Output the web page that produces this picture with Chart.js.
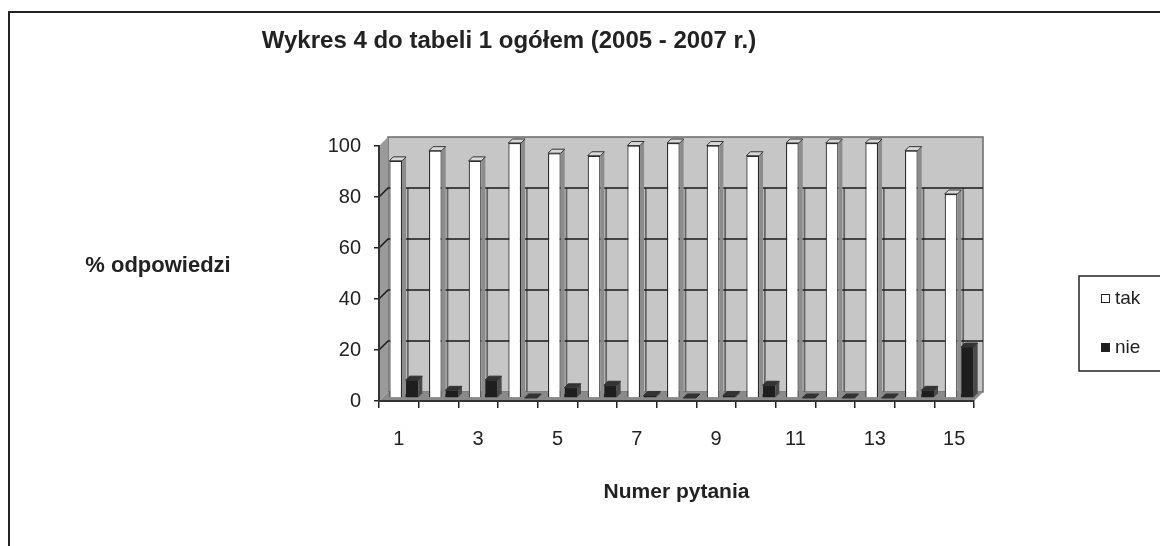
<!DOCTYPE html>
<html>
<head>
<meta charset="utf-8">
<title>Wykres 4 do tabeli 1</title>
<script src="https://cdn.jsdelivr.net/npm/chart.js@4.4.1/dist/chart.umd.min.js"></script>
<style>
  html, body { margin: 0; padding: 0; background: #fff; }
  #wrap { width: 1160px; height: 546px; }
</style>
</head>
<body>
<div id="wrap"><canvas id="chart" width="1160" height="546"></canvas></div>
<script>
// question numbers
const pytania = ["1", "2", "3", "4", "5", "6", "7", "8", "9", "10", "11", "12", "13", "14", "15"];
// % of answers
const tak = [93, 97, 93, 100, 96, 95, 99, 100, 99, 95, 100, 100, 100, 97, 80];
const nie = [7, 3, 7, 0, 4, 5, 1, 0, 1, 5, 0, 0, 0, 3, 20];
const yTicks = [0, 20, 40, 60, 80, 100];

const FONT = "'Liberation Sans', Arial, sans-serif";
const DX = 9, DY = -9;      // depth of the walls
const BD = 4;               // depth of a bar

// gray walls, floor and the lines on the back wall
const walls = {
  id: "walls",
  beforeDraw(chart) {
    const { ctx, chartArea: a, scales: { x, y } } = chart;
    ctx.save();
    ctx.fillStyle = "#fff";
    ctx.fillRect(0, 0, chart.width, chart.height);

    // outer frame (runs off the right and bottom edges)
    ctx.strokeStyle = "#222";
    ctx.lineWidth = 2;
    ctx.strokeRect(9, 12, chart.width + 20, chart.height + 20);

    // back wall
    ctx.fillStyle = "#c6c6c6";
    ctx.fillRect(a.left + DX, a.top + DY, a.right - a.left, a.bottom - a.top);
    ctx.strokeStyle = "#6a6a6a";
    ctx.lineWidth = 1.5;
    ctx.strokeRect(a.left + DX, a.top + DY, a.right - a.left, a.bottom - a.top);

    // left side wall
    ctx.fillStyle = "#9a9a9a";
    ctx.beginPath();
    ctx.moveTo(a.left, a.top);
    ctx.lineTo(a.left + DX, a.top + DY);
    ctx.lineTo(a.left + DX, a.bottom + DY);
    ctx.lineTo(a.left, a.bottom);
    ctx.closePath();
    ctx.fill();

    // floor
    ctx.fillStyle = "#8a8a8a";
    ctx.beginPath();
    ctx.moveTo(a.left, a.bottom);
    ctx.lineTo(a.left + DX, a.bottom + DY);
    ctx.lineTo(a.right + DX, a.bottom + DY);
    ctx.lineTo(a.right, a.bottom);
    ctx.closePath();
    ctx.fill();

    // vertical lines at the categories
    ctx.strokeStyle = "#666";
    ctx.lineWidth = 1.8;
    const top80 = y.getPixelForValue(80) + DY;
    pytania.forEach((p, i) => {
      const px = x.getPixelForValue(i) + DX;
      ctx.beginPath();
      ctx.moveTo(px, top80);
      ctx.lineTo(px, a.bottom + DY);
      ctx.stroke();
    });

    // horizontal grid on back and side wall
    ctx.strokeStyle = "#1a1a1a";
    ctx.lineWidth = 1.5;
    yTicks.filter(v => v > 0 && v < 100).forEach(v => {
      const py = y.getPixelForValue(v);
      ctx.beginPath();
      ctx.moveTo(a.left, py);
      ctx.lineTo(a.left + DX, py + DY);
      ctx.lineTo(a.right + DX, py + DY);
      ctx.stroke();
    });
    ctx.restore();
  },
  beforeDatasetsDraw(chart) {
    chart.ctx.save();
    chart.ctx.translate(5, -3);
  },
  afterDatasetsDraw(chart) {
    const ctx = chart.ctx;
    // top and side faces of the columns
    chart.data.datasets.forEach((ds, di) => {
      const meta = chart.getDatasetMeta(di);
      meta.data.forEach(bar => {
        const { x, y, base, width } = bar.getProps(["x", "y", "base", "width"], true);
        const l = x - width / 2, r = x + width / 2;
        ctx.fillStyle = ds.sideColor;
        ctx.beginPath();
        ctx.moveTo(r, y);
        ctx.lineTo(r + BD, y - BD);
        ctx.lineTo(r + BD, base - BD);
        ctx.lineTo(r, base);
        ctx.closePath();
        ctx.fill();
        ctx.fillStyle = ds.topColor;
        ctx.beginPath();
        ctx.moveTo(l, y);
        ctx.lineTo(l + BD, y - BD);
        ctx.lineTo(r + BD, y - BD);
        ctx.lineTo(r, y);
        ctx.closePath();
        ctx.fill();
        ctx.strokeStyle = "#333";
        ctx.lineWidth = 1;
        ctx.stroke();
      });
    });
    ctx.restore();
  },
  afterDraw(chart) {
    const ctx = chart.ctx;
    ctx.save();
    ctx.fillStyle = "#222";
    ctx.textAlign = "center";
    ctx.textBaseline = "alphabetic";
    ctx.font = "bold 24px " + FONT;
    ctx.fillText("Wykres 4 do tabeli 1 ogółem (2005 - 2007 r.)", 509, 48);
    ctx.font = "bold 22px " + FONT;
    ctx.fillText("% odpowiedzi", 158, 272);

    // legend
    ctx.strokeStyle = "#222";
    ctx.lineWidth = 1.5;
    ctx.strokeRect(1079, 276, 100, 95);
    ctx.textAlign = "left";
    ctx.textBaseline = "middle";
    ctx.font = "19px " + FONT;
    chart.data.datasets.forEach((ds, i) => {
      const cy = 299 + i * 49;
      ctx.fillStyle = ds.backgroundColor;
      ctx.fillRect(1101, cy - 5, 9, 9);
      ctx.strokeStyle = "#222";
      ctx.lineWidth = 1;
      ctx.strokeRect(1101.5, cy - 4.5, 8, 8);
      ctx.fillStyle = "#222";
      ctx.fillText(ds.label, 1115, cy);
    });
    ctx.restore();
  }
};

new Chart(document.getElementById("chart"), {
  type: "bar",
  data: {
    labels: pytania,
    datasets: [
      {
        label: "tak",
        data: tak,
        backgroundColor: "#ffffff",
        borderColor: "#2a2a2a",
        borderWidth: 1.2,
        sideColor: "#8c8c8c",
        topColor: "#d8d8d8"
      },
      {
        label: "nie",
        data: nie,
        backgroundColor: "#1e1e1e",
        borderWidth: 0,
        sideColor: "#4a4a4a",
        topColor: "#333333"
      }
    ]
  },
  options: {
    responsive: false,
    animation: false,
    devicePixelRatio: 1,
    categoryPercentage: 0.82,
    barPercentage: 0.78,
    clip: false,
    layout: { padding: { left: 319, right: 186, top: 146, bottom: 37 } },
    plugins: {
      legend: { display: false },
      title: { display: false },
      tooltip: { enabled: false }
    },
    scales: {
      x: {
        offset: true,
        grid: { offset: true, drawOnChartArea: false, drawTicks: true, tickLength: 7, color: "#222", lineWidth: 1.5 },
        border: { display: true, color: "#333", width: 2 },
        ticks: {
          autoSkip: false,
          maxRotation: 0,
          padding: 19,
          color: "#222",
          font: { family: FONT, size: 20 },
          callback: (v, i) => (i % 2 === 0 ? pytania[i] : "")
        },
        title: {
          display: true,
          text: "Numer pytania",
          color: "#222",
          font: { family: FONT, size: 21, weight: "bold" },
          padding: { top: 4, bottom: 4 }
        },
        afterFit: s => { s.height = 108; }
      },
      y: {
        min: 0,
        max: 100,
        afterBuildTicks: s => { s.ticks = yTicks.map(v => ({ value: v })); },
        grid: { drawOnChartArea: false, drawTicks: true, tickLength: 5, color: "#222", lineWidth: 1.5 },
        border: { display: true, color: "#333", width: 2 },
        ticks: { padding: 13, color: "#222", font: { family: FONT, size: 20 } },
        afterFit: s => { s.width = 60; }
      }
    }
  },
  plugins: [walls]
});
</script>
</body>
</html>
